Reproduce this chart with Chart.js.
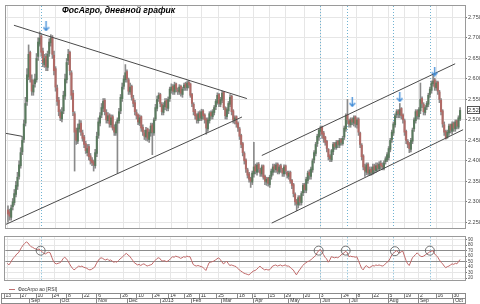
<!DOCTYPE html>
<html lang="ru">
<head>
<meta charset="utf-8">
<title>ФосАгро, дневной график</title>
<script src="https://cdn.jsdelivr.net/npm/chart.js@4.4.1/dist/chart.umd.min.js"></script>
<style>
  html, body { margin: 0; padding: 0; background: #fff; }
  #wrap { position: relative; width: 480px; height: 304px; overflow: hidden; }
  #wrap canvas { position: absolute; left: 0; }
  #title { position: absolute; left: 62px; top: 5px; font: italic bold 8.6px "Liberation Sans", Arial, sans-serif; color: #000; white-space: nowrap; }
  #rsiLegend { position: absolute; left: 9px; top: 286px; font: 5px "Liberation Sans", Arial, sans-serif; color: #333; white-space: nowrap; line-height: 6px; }
  #rsiLegend i { display: inline-block; width: 6px; height: 0; border-top: 1px solid #c07070; vertical-align: middle; margin-right: 3px; }
</style>
</head>
<body>
<div id="wrap">
  <canvas id="priceChart" width="480" height="234" style="top:0"></canvas>
  <canvas id="rsiChart" width="480" height="54" style="top:232px"></canvas>
  <canvas id="axisChart" width="480" height="12" style="top:292px"></canvas>
  <div id="title">ФосАгро, дневной график</div>
  <div id="rsiLegend"><i></i>ФосАгро ао [RSI]</div>
</div>
<script>
// ==================== data ====================
// one candle per trading day, index 0 = 13 Aug 2012
const opens = [
  2280,2275,2262,2288,2298,2318,2338,2362,2388,2422, 2452,2492,2545,2605,2665,2598,2568,2588,2598,2655,
  2685,2705,2668,2635,2655,2628,2662,2688,2702,2658, 2625,2578,2548,2518,2502,2522,2558,2598,2645,2665,
  2615,2565,2515,2475,2448,2478,2492,2468,2458,2442, 2420,2435,2412,2402,2398,2388,2418,2462,2492,2512,
  2528,2548,2518,2498,2512,2488,2508,2482,2468,2492, 2498,2522,2552,2582,2598,2618,2598,2568,2582,2552,
  2542,2518,2512,2492,2508,2482,2468,2458,2478,2452, 2468,2488,2468,2502,2528,2552,2562,2538,2518,2532,
  2548,2528,2552,2572,2582,2568,2588,2572,2568,2582, 2562,2578,2588,2578,2592,2588,2562,2538,2522,2512,
  2498,2518,2502,2522,2512,2502,2478,2498,2518,2508, 2518,2532,2542,2562,2538,2548,2568,2528,2508,2522,
  2538,2558,2522,2498,2508,2492,2478,2462,2442,2418, 2402,2378,2368,2358,2348,2368,2388,2372,2392,2378,
  2368,2388,2362,2348,2358,2342,2362,2372,2388,2378, 2392,2372,2388,2378,2368,2388,2372,2362,2372,2352,
  2342,2318,2302,2292,2312,2298,2322,2342,2328,2352, 2372,2362,2378,2402,2418,2442,2458,2472,2482,2468,
  2458,2448,2428,2412,2402,2422,2442,2432,2448,2438, 2452,2442,2458,2478,2512,2498,2488,2502,2492,2508,
  2488,2502,2468,2438,2412,2385,2372,2392,2368,2380, 2370,2388,2376,2390,2380,2394,2388,2382,2398,2402,
  2408,2428,2452,2468,2488,2512,2522,2512,2528,2512, 2498,2472,2448,2442,2428,2448,2478,2498,2522,2508,
  2522,2552,2538,2518,2532,2538,2562,2572,2588,2598, 2578,2592,2568,2548,2522,2488,2472,2458,2468,2488,
  2472,2492,2478,2498,2482,2502
];
const highs = [
  2290,2282,2292,2308,2330,2350,2372,2400,2432,2460, 2500,2555,2625,2683,2668,2610,2598,2612,2662,2700,
  2715,2708,2675,2660,2662,2668,2698,2708,2706,2668, 2630,2585,2555,2525,2530,2570,2612,2650,2672,2668,
  2620,2572,2520,2480,2490,2500,2498,2475,2462,2448, 2440,2440,2418,2408,2402,2428,2470,2505,2518,2540,
  2552,2552,2525,2518,2515,2512,2512,2488,2495,2505, 2528,2562,2590,2608,2635,2622,2602,2590,2585,2560,
  2548,2525,2515,2512,2510,2488,2475,2482,2480,2476, 2492,2492,2505,2538,2558,2566,2565,2542,2542,2552,
  2552,2556,2580,2588,2586,2592,2590,2578,2586,2585, 2580,2590,2592,2595,2596,2590,2565,2542,2526,2515,
  2520,2522,2526,2525,2515,2505,2505,2520,2522,2525, 2535,2550,2566,2565,2555,2570,2569,2532,2530,2545,
  2562,2560,2525,2510,2510,2495,2482,2465,2445,2422, 2405,2382,2372,2360,2375,2445,2392,2395,2396,2382,
  2390,2390,2365,2360,2360,2365,2380,2392,2392,2395, 2395,2390,2392,2382,2390,2390,2375,2375,2375,2355,
  2345,2322,2306,2315,2315,2325,2345,2345,2360,2375, 2378,2385,2405,2425,2445,2465,2478,2485,2485,2472,
  2460,2450,2430,2415,2428,2445,2445,2450,2450,2455, 2455,2460,2485,2515,2550,2502,2505,2505,2510,2510,
  2505,2505,2470,2442,2415,2392,2395,2395,2385,2385, 2392,2392,2395,2395,2398,2400,2395,2400,2410,2420,
  2435,2455,2475,2495,2515,2525,2525,2540,2530,2515, 2502,2475,2452,2445,2455,2480,2505,2525,2525,2530,
  2590,2556,2542,2535,2545,2565,2580,2595,2610,2602, 2595,2595,2572,2552,2525,2495,2475,2475,2490,2490,
  2495,2495,2500,2500,2510,2530
];
const lows = [
  2250,2255,2255,2280,2292,2312,2330,2355,2382,2415, 2445,2485,2535,2598,2592,2560,2560,2580,2592,2645,
  2680,2655,2630,2628,2620,2620,2655,2680,2650,2610, 2570,2535,2510,2498,2495,2515,2550,2590,2635,2610,
  2550,2510,2375,2440,2442,2470,2462,2448,2432,2418, 2412,2402,2392,2388,2375,2382,2410,2455,2485,2505,
  2520,2512,2492,2492,2482,2482,2475,2462,2462,2370, 2492,2515,2545,2575,2592,2592,2562,2562,2548,2532,
  2512,2502,2488,2486,2472,2462,2452,2450,2448,2445, 2460,2415,2462,2498,2522,2545,2532,2512,2512,2525,
  2522,2522,2545,2565,2562,2562,2568,2562,2562,2558, 2555,2572,2572,2572,2578,2555,2532,2512,2502,2492,
  2492,2498,2498,2502,2492,2465,2472,2492,2502,2502, 2512,2525,2538,2532,2532,2542,2525,2502,2502,2515,
  2532,2512,2492,2490,2482,2472,2452,2432,2412,2392, 2372,2358,2348,2335,2342,2360,2368,2365,2372,2362,
  2362,2355,2342,2340,2338,2335,2355,2365,2372,2372, 2368,2368,2372,2362,2362,2368,2358,2355,2345,2332,
  2312,2292,2278,2285,2292,2292,2315,2322,2322,2345, 2355,2355,2372,2395,2412,2435,2450,2462,2455,2445,
  2438,2422,2402,2398,2398,2415,2428,2428,2432,2432, 2438,2438,2452,2472,2490,2482,2482,2488,2485,2482,
  2480,2462,2432,2402,2378,2362,2366,2365,2364,2365, 2367,2370,2372,2376,2376,2380,2378,2378,2392,2398,
  2402,2422,2445,2462,2482,2505,2505,2505,2502,2492, 2462,2442,2432,2420,2422,2442,2472,2492,2502,2502,
  2515,2530,2512,2512,2525,2532,2555,2565,2582,2572, 2572,2562,2542,2512,2482,2462,2453,2455,2462,2468,
  2465,2472,2472,2478,2478,2498
];
const closes = [
  2270,2265,2285,2300,2320,2340,2360,2390,2420,2450, 2490,2540,2610,2660,2600,2570,2585,2600,2650,2690,
  2700,2665,2640,2650,2630,2660,2690,2700,2660,2620, 2580,2545,2520,2505,2520,2560,2600,2640,2660,2620,
  2560,2520,2470,2450,2480,2490,2470,2455,2440,2425, 2430,2410,2400,2395,2390,2420,2460,2495,2510,2530,
  2545,2520,2500,2510,2490,2505,2480,2470,2490,2500, 2520,2555,2580,2600,2615,2600,2570,2580,2555,2540,
  2520,2510,2495,2505,2480,2470,2460,2475,2455,2470, 2485,2470,2500,2530,2550,2560,2540,2520,2535,2545,
  2530,2550,2575,2580,2570,2585,2575,2570,2580,2565, 2575,2585,2580,2590,2585,2560,2540,2520,2510,2500,
  2515,2505,2520,2510,2500,2480,2500,2515,2510,2520, 2530,2545,2560,2540,2550,2565,2530,2510,2525,2540,
  2555,2520,2500,2505,2490,2480,2460,2440,2420,2400, 2380,2365,2355,2350,2370,2385,2375,2390,2380,2370,
  2385,2360,2350,2355,2345,2360,2375,2385,2380,2390, 2375,2385,2380,2370,2385,2375,2365,2370,2350,2340,
  2320,2300,2295,2310,2300,2320,2340,2330,2355,2370, 2365,2380,2400,2420,2440,2460,2475,2480,2465,2455,
  2445,2430,2410,2405,2425,2440,2435,2445,2440,2450, 2445,2455,2480,2510,2500,2490,2500,2495,2505,2490,
  2500,2470,2440,2410,2385,2375,2390,2370,2378,2372, 2385,2378,2388,2382,2392,2388,2385,2395,2405,2415,
  2430,2450,2470,2490,2510,2520,2515,2525,2510,2500, 2470,2450,2440,2430,2450,2475,2500,2520,2510,2525,
  2550,2540,2520,2530,2540,2560,2575,2590,2595,2580, 2590,2570,2550,2520,2490,2470,2455,2470,2485,2475,
  2490,2480,2495,2485,2505,2523
];
const rsiValues = [
  47,44,48,53,57,60,64,66,71,76, 80,83,86,84,80,77,76,74,73,72, 73,70,68,65,64,66,67,66,58,51,
  47,46,47,48,50,55,58,56,52,47, 42,38,35,37,40,42,41,42,40,39, 38,36,35,36,38,40,46,51,55,57,
  56,54,53,55,52,53,51,49,50,49, 52,55,57,60,63,65,62,60,56,52, 48,46,44,45,43,45,46,44,42,43,
  44,45,49,52,55,57,56,52,51,52, 50,51,53,56,59,58,60,59,58,56, 57,59,58,60,59,59,52,45,43,42,
  43,42,41,40,37,34,41,48,49,50, 51,53,55,57,54,50,46,48,51,47, 43,44,43,42,41,38,35,33,31,29,
  28,27,26,28,31,33,34,36,39,42, 39,37,35,36,35,35,38,42,43,44, 42,43,44,42,43,44,42,42,40,37,
  35,30,26,31,35,39,43,46,48,50, 51,53,56,58,61,66,70,72,68,63, 58,55,49,53,59,58,57,58,57,59,
  62,64,66,69,66,59,60,59,59,58, 59,52,45,38,35,40,43,40,39,41, 43,42,44,43,44,43,42,43,46,49,
  51,56,62,65,68,70,67,66,68,69, 60,52,46,43,50,57,60,63,66,63, 60,59,60,62,64,66,68,69,70,64,
  61,58,53,49,46,42,39,41,42,44, 46,45,47,46,50,54
];

// trend lines, [start, end] in (day index, price)
const triUpperX = [3.75, 150.6],   triUpperY = [2731, 2552];
const triLowerX = [-1.25, 147.5],  triLowerY = [2245, 2507];
const oldLineX = [-1.25, 8.75],    oldLineY = [2467, 2460];
const chanUpperX = [160, 281.9],   chanUpperY = [2413, 2637];
const chanLowerX = [166.25, 286.9], chanLowerY = [2248, 2476];

// signal marks
const arrowIdx = [24, 217, 247, 269];
const arrowVal = [2728, 2543, 2555, 2618];
const signalIdx = [21, 197, 214, 243, 266];
const circleIdx = [21, 196, 213, 244, 266];
const circleVal = [70, 70, 70, 69, 70];

// axes
const priceTicks = [2250, 2300, 2350, 2400, 2450, 2500, 2550, 2600, 2650, 2700, 2750];
const rsiTicks = [20, 30, 40, 50, 60, 70, 80, 90];
const dayTickIdx = [0, 10, 20, 30, 39, 49, 58, 73, 83, 93, 103, 113, 122, 133, 146, 155, 165, 175, 187, 197, 211, 220, 230, 240, 250, 259, 270, 280];
const dayTickText = ['13', '27', '10', '24', '8', '22', '6', '26', '10', '24', '14', '28', '11', '25', '18', '1', '15', '29', '20', '3', '24', '8', '22', '5', '19', '2', '16', '30'];
const monthTickIdx = [16, 35, 58, 77, 98, 117, 136, 156, 178, 198, 216, 240, 259, 281];
const monthTickText = ['Sep', 'Oct', 'Nov', 'Dec', '2013', 'Feb', 'Mar', 'Apr', 'May', 'Jun', 'Jul', 'Aug', 'Sep', 'Oct'];

// ==================== styling ====================
const X_MIN = -1.25, X_MAX = 288.1;
const UP = '#5a7a5e', DOWN = '#b06a66', WICK = '#8a8a8a';
const RSI_COLOR = '#c06868';
const GRID = '#e6e6e6';
const FONT = 'Liberation Sans';

const idx = closes.map((c, i) => i);

function makeArrow() {
    const c = document.createElement('canvas');
    c.width = 7; c.height = 10;
    const g = c.getContext('2d');
    g.strokeStyle = '#3d8ad6';
    g.lineWidth = 1.3;
    g.beginPath(); g.moveTo(3.5, 0); g.lineTo(3.5, 9); g.stroke();
    g.beginPath(); g.moveTo(0.7, 5.8); g.lineTo(3.5, 9); g.lineTo(6.3, 5.8); g.stroke();
    return c;
}

function seg(xs, ys) {
    return xs.map((x, k) => ({ x: x, y: ys[k] }));
}

function dayGridX() {
    return {
        type: 'linear', min: X_MIN, max: X_MAX, offset: false,
        afterBuildTicks: s => { s.ticks = dayTickIdx.map(v => ({ value: v })); },
        ticks: { display: false },
        grid: { color: GRID, drawTicks: false, offset: false },
        border: { display: false },
        afterFit: s => { s.height = 0; }
    };
}

const panelBorder = {
    id: 'panelBorder',
    afterDraw(chart) {
        const a = chart.chartArea, g = chart.ctx;
        g.save();
        g.strokeStyle = '#9a9a9a';
        g.lineWidth = 1;
        g.strokeRect(Math.round(a.left) - 0.5, Math.round(a.top) - 0.5, Math.round(a.right - a.left) + 1, Math.round(a.bottom - a.top) + 1);
        g.restore();
    }
};

const signalLines = {
    id: 'signalLines',
    beforeDatasetsDraw(chart) {
        const a = chart.chartArea, g = chart.ctx, sx = chart.scales.x;
        g.save();
        g.strokeStyle = '#6fb3d2';
        g.lineWidth = 1;
        g.setLineDash([1, 2]);
        signalIdx.forEach(v => {
            const px = Math.round(sx.getPixelForValue(v)) + 0.5;
            g.beginPath(); g.moveTo(px, a.top); g.lineTo(px, a.bottom); g.stroke();
        });
        g.restore();
    }
};

const lastPriceBox = {
    id: 'lastPriceBox',
    afterDraw(chart) {
        const a = chart.chartArea, g = chart.ctx;
        const last = closes[closes.length - 1];
        const py = Math.round(chart.scales.y.getPixelForValue(last));
        g.save();
        g.fillStyle = '#fff';
        g.strokeStyle = '#555';
        g.lineWidth = 1;
        g.fillRect(a.right + 2, py - 4, 13, 8);
        g.strokeRect(a.right + 2.5, py - 3.5, 12, 7);
        g.fillStyle = '#222';
        g.font = '5.5px "' + FONT + '"';
        g.textBaseline = 'middle';
        g.fillText(fmtPrice(last), a.right + 3, py + 0.5);
        g.restore();
    }
};

function fmtPrice(v) {
    const s = String(v);
    return s.slice(0, s.length - 3) + '.' + s.slice(s.length - 3);
}

// ==================== price panel ====================
new Chart(document.getElementById('priceChart'), {
    type: 'bar',
    data: {
        datasets: [
            { type: 'line', data: seg(arrowIdx, arrowVal), showLine: false, pointStyle: makeArrow(), pointRadius: 5, order: 0 },
            { type: 'line', data: seg(triUpperX, triUpperY), borderColor: '#4a4a4a', borderWidth: 1, pointRadius: 0, order: 1 },
            { type: 'line', data: seg(triLowerX, triLowerY), borderColor: '#4a4a4a', borderWidth: 1, pointRadius: 0, order: 1 },
            { type: 'line', data: seg(oldLineX, oldLineY), borderColor: '#4a4a4a', borderWidth: 1, pointRadius: 0, order: 1 },
            { type: 'line', data: seg(chanUpperX, chanUpperY), borderColor: '#4a4a4a', borderWidth: 1, pointRadius: 0, order: 1 },
            { type: 'line', data: seg(chanLowerX, chanLowerY), borderColor: '#4a4a4a', borderWidth: 1, pointRadius: 0, order: 1 },
            {
                type: 'bar',
                data: idx.map(i => ({ x: i, y: [opens[i], closes[i]] })),
                backgroundColor: idx.map(i => closes[i] >= opens[i] ? UP : DOWN),
                barThickness: 1.4, minBarLength: 1, grouped: false, order: 2
            },
            {
                type: 'bar',
                data: idx.map(i => ({ x: i, y: [lows[i], highs[i]] })),
                backgroundColor: WICK,
                barThickness: 1, grouped: false, order: 3
            }
        ]
    },
    options: {
        responsive: false,
        animation: false,
        layout: { padding: { left: 2, top: 2, right: 0, bottom: 2 } },
        plugins: { legend: { display: false }, tooltip: { enabled: false } },
        scales: {
            x: dayGridX(),
            y: {
                position: 'right', min: 2236, max: 2778,
                afterBuildTicks: s => { s.ticks = priceTicks.map(v => ({ value: v })); },
                ticks: { font: { size: 5.5, family: FONT }, color: '#444', padding: 1, autoSkip: false, callback: v => fmtPrice(v) },
                grid: { color: GRID, tickLength: 2, tickColor: '#777' },
                border: { display: false },
                afterFit: s => { s.width = 15; }
            }
        }
    },
    plugins: [signalLines, panelBorder, lastPriceBox]
});

// ==================== RSI panel ====================
new Chart(document.getElementById('rsiChart'), {
    type: 'line',
    data: {
        datasets: [
            { data: circleIdx.map((x, k) => ({ x: x, y: circleVal[k] })), showLine: false, pointRadius: 4.5, pointBorderColor: '#555', pointBorderWidth: 0.8, pointBackgroundColor: 'rgba(0,0,0,0)', order: 0 },
            { data: idx.map(i => ({ x: i, y: rsiValues[i] })), borderColor: RSI_COLOR, borderWidth: 1, pointRadius: 0, tension: 0, order: 1 }
        ]
    },
    options: {
        responsive: false,
        animation: false,
        layout: { padding: { left: 2, top: 2, right: 0, bottom: 1 } },
        plugins: { legend: { display: false }, tooltip: { enabled: false } },
        scales: {
            x: dayGridX(),
            y: {
                position: 'right', min: 15.4, max: 94.2,
                afterBuildTicks: s => { s.ticks = rsiTicks.map(v => ({ value: v })); },
                ticks: { font: { size: 4.6, family: FONT }, color: '#444', padding: 1, autoSkip: false },
                grid: {
                    color: c => (c.tick && (c.tick.value === 70 || c.tick.value === 50)) ? '#8c8c8c' : GRID,
                    tickLength: 2, tickColor: '#777'
                },
                border: { display: false },
                afterFit: s => { s.width = 15; }
            }
        }
    },
    plugins: [signalLines, panelBorder]
});

// ==================== date axis ====================
const axisFrame = {
    id: 'axisFrame',
    afterDraw(chart) {
        const a = chart.chartArea, g = chart.ctx;
        g.save();
        g.strokeStyle = '#8a8a8a';
        g.lineWidth = 1;
        g.strokeRect(Math.round(a.left) - 0.5, Math.round(a.bottom) + 0.5, Math.round(a.right - a.left) + 1, chart.height - Math.round(a.bottom) - 1);
        g.restore();
    }
};

new Chart(document.getElementById('axisChart'), {
    type: 'line',
    data: { datasets: [{ data: [], xAxisID: 'xd', yAxisID: 'y' }] },
    options: {
        responsive: false,
        animation: false,
        layout: { padding: { left: 2, right: 15, top: 0, bottom: 0 } },
        plugins: { legend: { display: false }, tooltip: { enabled: false } },
        scales: {
            xd: {
                type: 'linear', position: 'bottom', min: X_MIN, max: X_MAX, offset: false,
                afterBuildTicks: s => { s.ticks = dayTickIdx.map(v => ({ value: v })); },
                ticks: { align: 'start', labelOffset: 1.5, padding: -5.5, autoSkip: false, maxRotation: 0, minRotation: 0,
                         font: { size: 5, family: FONT }, color: '#333', callback: (v, i) => dayTickText[i] },
                grid: { drawOnChartArea: false, tickLength: 5, color: '#8a8a8a', offset: false },
                border: { display: true, color: '#8a8a8a' },
                afterFit: s => { s.height = 5; }
            },
            xm: {
                type: 'linear', position: 'bottom', min: X_MIN, max: X_MAX, offset: false,
                afterBuildTicks: s => { s.ticks = monthTickIdx.map(v => ({ value: v })); },
                ticks: { align: 'start', labelOffset: 1.5, padding: -6.2, autoSkip: false, maxRotation: 0, minRotation: 0,
                         font: { size: 5, family: FONT }, color: '#333', callback: (v, i) => monthTickText[i] },
                grid: { drawOnChartArea: false, tickLength: 6, color: '#8a8a8a', offset: false },
                border: { display: true, color: '#8a8a8a' },
                afterFit: s => { s.height = 6; }
            },
            y: { display: false, min: 0, max: 1 }
        }
    },
    plugins: [axisFrame]
});
</script>
</body>
</html>
